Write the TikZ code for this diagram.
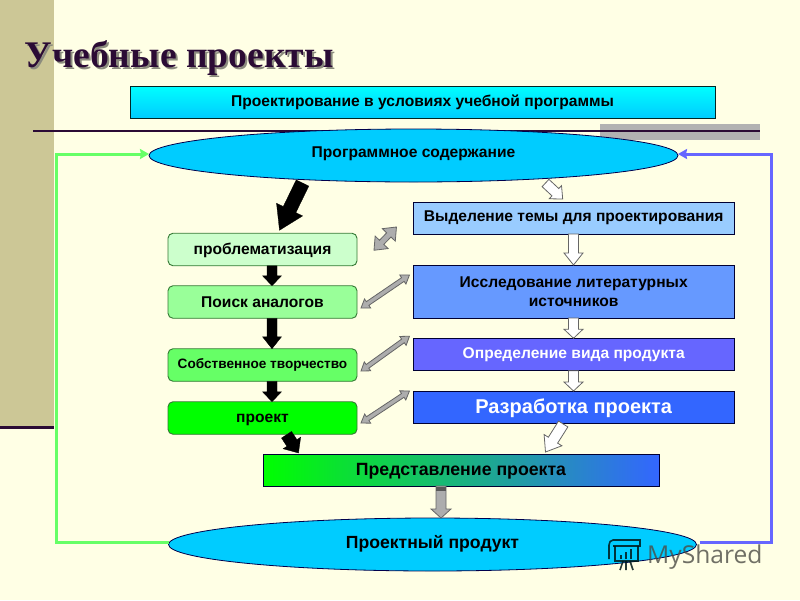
\documentclass[tikz,border=0pt]{standalone}
\usepackage{fontspec}
\setmainfont{Liberation Sans}
\newfontfamily\titlefont{Liberation Serif}
\newfontfamily\markfont{Open Sans}
\usetikzlibrary{calc,shapes.geometric,arrows.meta}
\definecolor{bg}{HTML}{FFFFE5}
\definecolor{band}{HTML}{CCC796}
\definecolor{plum}{HTML}{2B0B35}
\definecolor{sky}{HTML}{00CCFF}
\definecolor{loopg}{HTML}{66FF66}
\definecolor{loopb}{HTML}{6666FF}
\definecolor{blueA}{HTML}{99CCFF}
\definecolor{blueB}{HTML}{6699FF}
\definecolor{blueD}{HTML}{3366FF}
\tikzset{
  flatbox/.style={draw=#1,line width=0.9pt,inner sep=0pt,outer sep=0pt,align=center,font=\fontsize{15.6}{19}\selectfont\bfseries,text=black},
  greenbox/.style={flatbox=black!55!green!60!gray,rounded corners=5pt,minimum width=189pt,minimum height=32.5pt},
  bluebox/.style={flatbox=black!80!blue,minimum width=320.5pt},
  oval/.style={ellipse,draw=black!70!blue,line width=0.8pt,fill=sky,inner sep=0pt,outer sep=0pt,minimum height=53pt,font=\fontsize{15.6}{19}\selectfont\bfseries},
  blackarrow/.style={fill=black,draw=black,line width=0.3pt},
  whitearrow/.style={fill=white,draw=black!60,line width=0.8pt},
  greyarrow/.style={fill=black!32,draw=black!60,line width=0.8pt},
  looparrow/.style={line width=3pt,-{Stealth[length=9pt,width=10pt,inset=1pt]},line cap=butt},
}
\newcommand\blockarrow[6][]{%
  \path #2 coordinate (ba) #3 coordinate (bb);
  \coordinate (bn) at ($(bb)!#6!(ba)$);
  \draw[#1,line join=miter] ($(ba)!#4/2!90:(bb)$) -- ($(bn)!#4/2!90:(bb)$) -- ($(bn)!#5/2!90:(bb)$) -- (bb)
    -- ($(bn)!#5/2!-90:(bb)$) -- ($(bn)!#4/2!-90:(bb)$) -- ($(ba)!#4/2!-90:(bb)$) -- cycle;}
\newcommand\dblarrow[6][]{%
  \path #2 coordinate (ba) #3 coordinate (bb);
  \coordinate (bn) at ($(bb)!#6!(ba)$);
  \coordinate (bm) at ($(ba)!#6!(bb)$);
  \draw[#1,line join=miter] (ba) -- ($(bm)!#5/2!90:(bb)$) -- ($(bm)!#4/2!90:(bb)$) -- ($(bn)!#4/2!90:(bb)$) -- ($(bn)!#5/2!90:(bb)$) -- (bb)
    -- ($(bn)!#5/2!-90:(bb)$) -- ($(bn)!#4/2!-90:(bb)$) -- ($(bm)!#4/2!-90:(bb)$) -- ($(bm)!#5/2!-90:(bb)$) -- cycle;}
\newcommand\lowtext[2]{\raisebox{#1}[0pt][0pt]{#2}}
\begin{document}
\begin{tikzpicture}[x=1pt,y=-1pt]
\useasboundingbox (0,0) rectangle (800,600);
\fill[bg] (0,0) rectangle (800,600);
% decoration
\fill[band] (0,0) rectangle (53.5,426);
\fill[plum] (0,425.5) rectangle (53.5,428.5);
\fill[black!30] (600,124) rectangle (760,139.5);
\draw[plum,line width=1.4pt] (33,131) -- (760,131);
% title
\node[anchor=base west,inner sep=0pt,text=black!45!bg] (titleshadow) at (26.5,69) {\titlefont\bfseries\fontsize{37.6}{40}\selectfont Учебные проекты};
\node[anchor=base west,inner sep=0pt,text=plum] (title) at (24.5,67) {\titlefont\bfseries\fontsize{37.6}{40}\selectfont Учебные проекты};
% top box
\node[flatbox=black!70!teal,top color=cyan,bottom color=sky,minimum width=585pt,minimum height=32pt] (top) at (422.5,102) {\raisebox{2pt}{Проектирование в условиях учебной программы}};
% ovals
\node[oval,minimum width=529pt] (prog) at (413.5,155.5) {\raisebox{6.5pt}{Программное содержание}};
\node[oval,minimum width=528pt] (prod) at (432.5,544.5) {\raisebox{5pt}{\fontsize{17.6}{20}\selectfont Проектный продукт}};
% left column
\node[greenbox,fill=green!20!white] (a1) at (262.5,249.5) {\lowtext{-4.5pt}{проблематизация}};
\node[greenbox,fill=green!40!white] (a2) at (262.5,302) {\raisebox{0.5pt}{Поиск аналогов}};
\node[greenbox,fill=loopg,font=\fontsize{13.6}{16}\selectfont\bfseries] (a3) at (262.5,365) {\raisebox{2.5pt}{Собственное творчество}};
\node[greenbox,fill=green] (a4) at (262.5,418) {\lowtext{-4pt}{проект}};
% right column
\node[bluebox,fill=blueA,minimum height=32pt] (b1) at (573.7,218) {\raisebox{2pt}{Выделение темы для проектирования}};
\node[bluebox,fill=blueB,minimum height=53pt] (b2) at (573.7,291.5) {\raisebox{4pt}{\parbox{320pt}{\centering Исследование литературных\\источников}}};
\node[bluebox,fill=loopb,text=white,minimum height=32.5pt] (b3) at (573.7,354.5) {\raisebox{3.5pt}{Определение вида продукта}};
\node[bluebox,fill=blueD,text=white,minimum height=32pt,font=\fontsize{20}{22}\selectfont\bfseries] (b4) at (573.7,407) {\lowtext{-6.3pt}{Разработка проекта}};
\node[flatbox=black!80!blue,left color=green,right color=blueD,minimum width=396pt,minimum height=32pt,font=\fontsize{17.7}{20}\selectfont\bfseries] (pres) at (461,470) {\lowtext{-5.7pt}{Представление проекта}};
% column coordinates
\coordinate (lcol) at (272,0);
\coordinate (rcol) at (573.5,0);
\coordinate (gcol) at (441,0);
\coordinate (gl) at (56.5,0);
\coordinate (bl) at (771.5,0);
% black arrows
\blockarrow[blackarrow]{($(prog.south)+(-111,1)$)}{($(a1.north)+(17,-3)$)}{14pt}{29pt}{23pt}
\blockarrow[blackarrow]{(a1.south -| lcol)}{(a2.north -| lcol)}{10pt}{19pt}{10pt}
\blockarrow[blackarrow]{(a2.south -| lcol)}{(a3.north -| lcol)}{10pt}{19pt}{12pt}
\blockarrow[blackarrow]{(a3.south -| lcol)}{(a4.north -| lcol)}{10pt}{19pt}{10pt}
\blockarrow[blackarrow]{($(a4.south)+(24,0.5)$)}{($(pres.north west)+(35.5,-1)$)}{12pt}{21pt}{12pt}
% white arrows
\blockarrow[whitearrow]{($(prog.south)+(132,1)$)}{($(b1.north)+(-11,-3)$)}{10pt}{18pt}{10pt}
\blockarrow[whitearrow]{(b1.south -| rcol)}{(b2.north -| rcol)}{10pt}{19pt}{12pt}
\blockarrow[whitearrow]{(b2.south -| rcol)}{(b3.north -| rcol)}{10pt}{19pt}{9pt}
\blockarrow[whitearrow]{(b3.south -| rcol)}{(b4.north -| rcol)}{10pt}{19pt}{9pt}
\blockarrow[whitearrow]{($(b4.south)+(-10.5,1)$)}{($(pres.north east)+(-113.5,-2)$)}{11pt}{21pt}{14pt}
% grey arrow
\blockarrow[greyarrow]{(pres.south -| gcol)}{(prod.north -| gcol)}{10pt}{20pt}{9pt}
\fill[black!65] ($(pres.south -| gcol)+(-5,0.5)$) rectangle ($(pres.south -| gcol)+(5,5)$);
% double arrows
\dblarrow[greyarrow]{($(a1.north east)+(17,17)$)}{($(b1.south west)+(-17,-7)$)}{6pt}{18pt}{11pt}
\dblarrow[greyarrow]{($(a2.east)+(4,6)$)}{($(b2.north west)+(-4,10)$)}{4.5pt}{11pt}{8pt}
\dblarrow[greyarrow]{($(a3.east)+(4,6)$)}{($(b3.north west)+(-4,-2)$)}{4.5pt}{11pt}{8pt}
\dblarrow[greyarrow]{($(a4.east)+(4,5)$)}{($(b4.north west)+(-4,0)$)}{4.5pt}{11pt}{8pt}
% feedback loops
\coordinate (gt) at ($(prog.west)+(0,-1.5)$);
\coordinate (bt) at ($(prog.east)+(0,-1.5)$);
\draw[loopg,looparrow] ($(prod.west)+(0,-2)$) -| (gl |- gt) -- (gt);
\draw[loopb,looparrow] ($(prod.east)+(3,-2)$) -| (bl |- bt) -- (bt);
% watermark
\node[anchor=base west,inner sep=0pt,text=black!70!bg,text opacity=0.8] (wm) at (647,563) {\markfont\fontsize{24.6}{28}\selectfont MyShared};
\begin{scope}[draw=black!80!teal,line width=1.6pt,opacity=0.85]
\draw (609,559) -- (609,545) to[out=90,in=180] (613,540) -- (640,540) -- (640,546) -- (613,546);
\draw (615,546) -- (615,561) -- (638,561) -- (638,546);
\draw (620,570) -- (623,561) (626,570) -- (626,561) (633,570) -- (630,561);
\draw[line width=2.5pt] (621,559) -- (621,555) (626,559) -- (626,552) (631,559) -- (631,549);
\end{scope}
\end{tikzpicture}
\end{document}
